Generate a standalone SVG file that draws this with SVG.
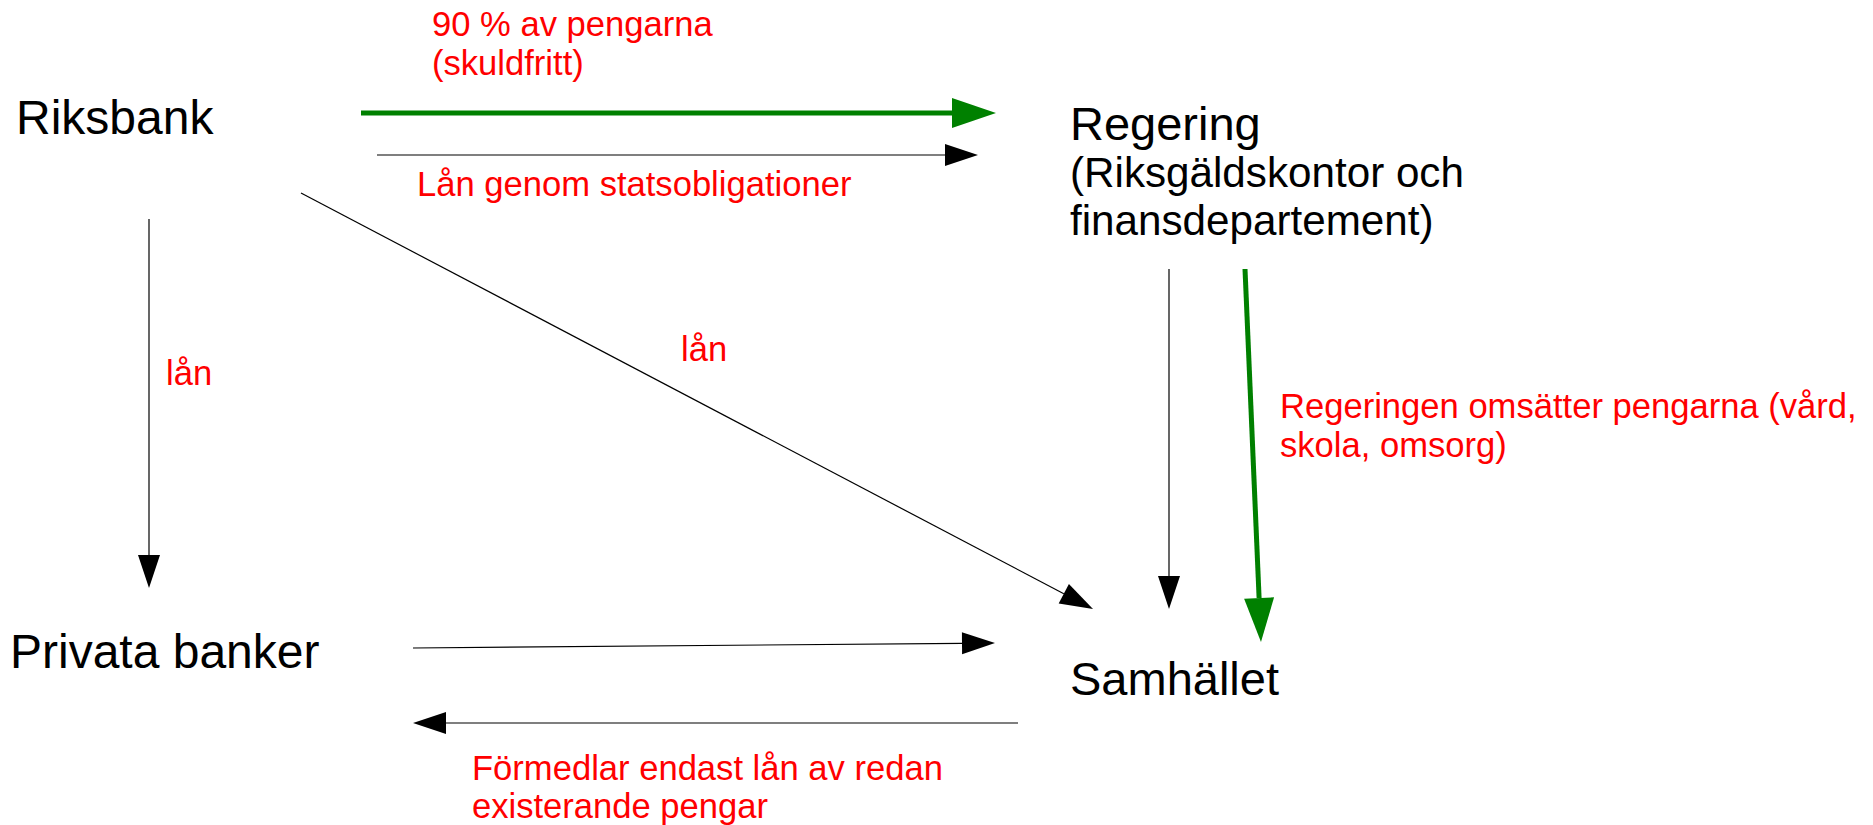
<svg xmlns="http://www.w3.org/2000/svg" width="1873" height="825" viewBox="0 0 1873 825">
<style>
.node{font-family:"Liberation Sans",Arial,sans-serif;fill:#000;font-size:47px}
.big{font-size:48px}
.sub{font-size:42.2px}
.lbl{font-family:"Liberation Sans",Arial,sans-serif;fill:#ff0000;font-size:34.6px}
.blk{stroke:#000;stroke-width:1.2;fill:none}
.grn{stroke:#008000;stroke-width:5;fill:none}
</style>
<defs>
<marker id="ab" markerUnits="userSpaceOnUse" markerWidth="34" markerHeight="24" refX="0" refY="11" orient="auto" overflow="visible">
<polygon points="0,0 33,11 0,22" fill="#000"/>
</marker>
<marker id="ag" markerUnits="userSpaceOnUse" markerWidth="45" markerHeight="31" refX="0" refY="15" orient="auto" overflow="visible">
<polygon points="0,0 44,15 0,30" fill="#008000"/>
</marker>
</defs>
<rect width="1873" height="825" fill="#fff"/>
<g id="riksbank"><text class="node big" x="16" y="134">Riksbank</text></g>
<g id="regering"><text class="node" x="1070" y="140">Regering</text>
<text class="node sub" x="1070" y="187">(Riksgäldskontor och</text>
<text class="node sub" x="1070" y="235">finansdepartement)</text></g>
<g id="privata"><text class="node big" x="10" y="668">Privata banker</text></g>
<g id="samhallet"><text class="node" x="1070" y="695">Samhället</text></g>
<g id="connectors">
<path class="grn" d="M361,113 L952,113" marker-end="url(#ag)"/>
<path class="blk" d="M377,155 L945,155" marker-end="url(#ab)"/>
<path class="blk" d="M301,193 L1063.8,593.7" marker-end="url(#ab)"/>
<path class="blk" d="M149,219 L149,555" marker-end="url(#ab)"/>
<path class="blk" d="M1169,269 L1169,576" marker-end="url(#ab)"/>
<path class="grn" d="M1245,269 L1259.1,598" marker-end="url(#ag)"/>
<path class="blk" d="M413,648 L962,643.3" marker-end="url(#ab)"/>
<path class="blk" d="M1018,723 L446,723" marker-end="url(#ab)"/>
</g>
<g id="labels">
<text class="lbl" x="432" y="36">90 % av pengarna</text>
<text class="lbl" x="432" y="75">(skuldfritt)</text>
<text class="lbl" x="417" y="196">Lån genom statsobligationer</text>
<text class="lbl" x="166" y="385">lån</text>
<text class="lbl" x="681" y="361">lån</text>
<text class="lbl" x="1280" y="418">Regeringen omsätter pengarna (vård,</text>
<text class="lbl" x="1280" y="457">skola, omsorg)</text>
<text class="lbl" x="472" y="780">Förmedlar endast lån av redan</text>
<text class="lbl" x="472" y="818">existerande pengar</text>
</g>
</svg>
